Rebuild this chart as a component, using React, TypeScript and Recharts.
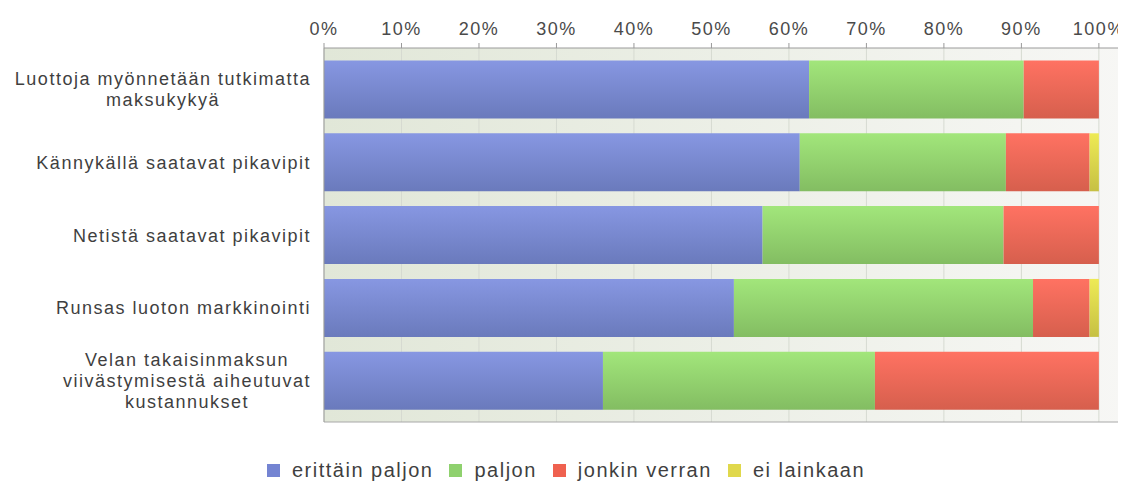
import React from 'react';
import { BarChart, Bar, XAxis, YAxis, CartesianGrid, Legend } from 'recharts';

const categories = [
  'Luottoja myönnetään tutkimatta\nmaksukykyä',
  'Kännykällä saatavat pikavipit',
  'Netistä saatavat pikavipit',
  'Runsas luoton markkinointi',
  'Velan takaisinmaksun\nviivästymisestä aiheutuvat\nkustannukset',
];
const erittainPaljon = [62.6, 61.4, 56.6, 52.9, 36.0];
const paljon = [27.7, 26.6, 31.1, 38.6, 35.1];
const jonkinVerran = [9.7, 10.8, 12.3, 7.3, 28.9];
const eiLainkaan = [0, 1.2, 0, 1.2, 0];
const xTicks = [0, 10, 20, 30, 40, 50, 60, 70, 80, 90, 100];

const seriesList = [
  { key: 'erittain', name: 'erittäin paljon', top: '#8797e2', bottom: '#6a7abc', swatch: '#7484d2' },
  { key: 'paljon', name: 'paljon', top: '#a2e67b', bottom: '#83bd62', swatch: '#8fd16e' },
  { key: 'jonkin', name: 'jonkin verran', top: '#ff7262', bottom: '#d65f4d', swatch: '#ef614f' },
  { key: 'ei', name: 'ei lainkaan', top: '#eeea55', bottom: '#c6c043', swatch: '#e0d84c' },
];

const data = categories.map((c, i) => ({
  cat: c,
  erittain: erittainPaljon[i],
  paljon: paljon[i],
  jonkin: jonkinVerran[i],
  ei: eiLainkaan[i],
}));

const FONT = '"Liberation Sans", Arial, sans-serif';
const SPACING = 1.5;

let ctx: CanvasRenderingContext2D | null = null;
const measure = (s: string, size: number) => {
  if (!ctx) ctx = document.createElement('canvas').getContext('2d');
  if (!ctx) return s.length * size * 0.5;
  ctx.font = `${size}px ${FONT}`;
  return ctx.measureText(s).width + SPACING * s.length;
};

const CategoryTick = (props: any) => {
  const { y, payload } = props;
  const lines: string[] = String(payload.value).split('\n');
  const right = 303;
  const maxW = Math.max(...lines.map((l) => measure(l, 18)));
  const cx = right - maxW / 2;
  const lh = 21;
  const y0 = y - ((lines.length - 1) * lh) / 2 + 6.5;
  return (
    <g>
      {lines.map((l, i) => (
        <text key={i} x={cx} y={y0 + i * lh} textAnchor="middle" fill="#3f3f3f" fontSize={18}
          fontFamily={FONT} letterSpacing={SPACING}>
          {l}
        </text>
      ))}
    </g>
  );
};

const PercentTick = (props: any) => {
  const { x, payload } = props;
  return (
    <text x={x} y={27} textAnchor="middle" fill="#4a4a4a" fontSize={18} fontFamily={FONT} letterSpacing={SPACING}>
      {payload.value}%
    </text>
  );
};

const LegendContent = () => (
  <div style={{ display: 'flex', justifyContent: 'center', alignItems: 'center', fontFamily: FONT,
    fontSize: 20, color: '#3f3f3f', letterSpacing: SPACING, paddingLeft: 14 }}>
    {seriesList.map((s) => (
      <div key={s.key} style={{ display: 'flex', alignItems: 'center', marginRight: 16 }}>
        <span style={{ width: 13, height: 13, background: s.swatch, marginRight: 12, display: 'inline-block' }} />
        <span>{s.name}</span>
      </div>
    ))}
  </div>
);

export default function App() {
  return (
    <div style={{ width: 1118, height: 475 }}>
      <BarChart width={1118} height={475} data={data} layout="vertical"
        margin={{ top: 10, right: 0, left: 0, bottom: 37 }} barCategoryGap={7.5}>
        <defs>
          <linearGradient id="plotBg" x1="0" y1="0" x2="1" y2="0">
            <stop offset="0%" stopColor="#e1e7d8" />
            <stop offset="100%" stopColor="#f7f7f5" />
          </linearGradient>
          {seriesList.map((s) => (
            <linearGradient key={s.key} id={`g-${s.key}`} x1="0" y1="0" x2="0" y2="1">
              <stop offset="0%" stopColor={s.top} />
              <stop offset="100%" stopColor={s.bottom} />
            </linearGradient>
          ))}
        </defs>
        <CartesianGrid horizontal={false} stroke="#d6dad1" fill="url(#plotBg)" fillOpacity={1} />
        <CartesianGrid vertical={false} stroke="#a8a8a8"
          horizontalCoordinatesGenerator={({ offset }: any) => [offset.top + offset.height]} />
        <XAxis type="number" orientation="top" domain={[0, 103.5]} ticks={xTicks} height={30}
          allowDataOverflow tick={<PercentTick />} tickSize={5} stroke="#9a9a9a" interval={0} />
        <YAxis type="category" dataKey="cat" width={316} tickLine={false} stroke="#9a9a9a"
          tick={<CategoryTick />} interval={0} padding={{ top: 5, bottom: 5 }} />
        {seriesList.map((s) => (
          <Bar key={s.key} dataKey={s.key} name={s.name} stackId="a" fill={`url(#g-${s.key})`}
            isAnimationActive={false} />
        ))}
        <Legend verticalAlign="bottom" height={24} content={<LegendContent />}
          wrapperStyle={{ top: 451, bottom: 'auto', left: 0, width: 1118 }} />
      </BarChart>
    </div>
  );
}
